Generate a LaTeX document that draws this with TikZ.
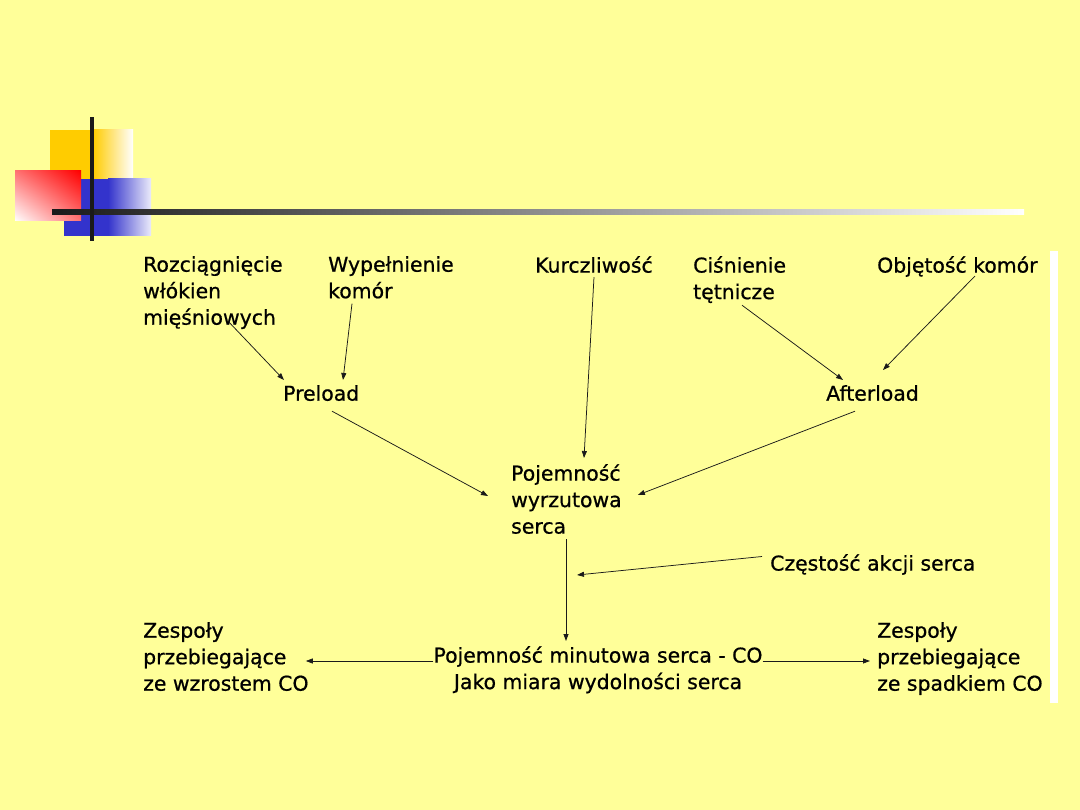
\documentclass[tikz,border=0pt]{standalone}
\usepackage{fontspec}
\setmainfont{DejaVu Sans}
\newfontfamily\slidefont{DejaVu Sans}[FakeBold=0.7]
\usepackage{xcolor}
\usetikzlibrary{positioning,arrows.meta,shadings}

\definecolor{slidebg}{HTML}{FFFF99}
\definecolor{gold}{HTML}{FFCC00}
\definecolor{royal}{HTML}{3333CC}
\definecolor{signal}{HTML}{FF0000}
\definecolor{ink}{HTML}{1A1A1A}

\begin{document}
\begin{tikzpicture}[
  x=1pt,y=1pt,
  >={Triangle[length=7pt,width=5pt]},
  term/.style={
    anchor=north west,
    inner sep=0pt,
    align=left,
    font=\slidefont\fontsize{20.4}{26.5}\selectfont
  },
  link/.style={->,line width=0.75pt,draw=ink}
]
% slide background
\fill[slidebg] (0,0) rectangle (1080,-810);
\useasboundingbox (0,0) rectangle (1080,-810);

% corner ornament
\fill[gold] (50,-130) rectangle (93,-212);
\shade[left color=gold,right color=white] (93,-130) rectangle (133,-212);
\fill[royal] (64,-179) rectangle (108,-236);
\shade[left color=royal,right color=white!90!royal] (108,-179) rectangle (151,-236);
\shade[upper right=signal,upper left=signal!55!white,lower right=signal!55!white,lower left=white]
  (15,-171) rectangle (81,-221);
\shade[left color=ink,right color=white] (52,-209.5) rectangle (1024,-214.5);
\fill[ink] (90,-117) rectangle (94,-241);
\fill[white] (1050,-251) rectangle (1058,-703);

% factors
\node[term] (rozc) at (143,-256) {Rozciągnięcie\\włókien\\mięśniowych};
\node[term] (wyp) at (328,-256) {Wypełnienie\\komór};
\node[term] (kurcz) at (535,-256) {Kurczliwość};
\node[term] (cisn) at (693,-256) {Ciśnienie\\tętnicze};
\node[term] (obj) at (877,-256) {Objętość komór};

\node[term] (preload) at (283,-385) {Preload};
\node[term] (afterload) at (826,-385) {Afterload};

\node[term] (sv) at (511,-464) {Pojemność\\wyrzutowa\\serca};
\node[term] (hr) at (770,-554) {Częstość akcji serca};

\node[term,anchor=north,align=center] (co) at (598,-646) {Pojemność minutowa serca - CO\\Jako miara wydolności serca};
\node[term] (zl) at (143,-622) {Zespoły\\przebiegające\\ze wzrostem CO};
\node[term] (zr) at (877,-622) {Zespoły\\przebiegające\\ze spadkiem CO};

\coordinate (hrend) at (577,-575);

\draw[link] ([shift={(86,7)}]rozc.south west) -- ([shift={(1,5)}]preload.north west);
\draw[link] ([shift={(24,-5)}]wyp.south west) -- ([shift={(60,5)}]preload.north west);
\draw[link] ([shift={(59,-4)}]kurcz.south west) -- ([shift={(73,6)}]sv.north west);
\draw[link] ([shift={(49,-2)}]cisn.south west) -- ([shift={(17,5)}]afterload.north west);
\draw[link] ([shift={(98,1)}]obj.south west) -- ([shift={(57,15)}]afterload.north west);

\draw[link] ([shift={(49,-10)}]preload.south west) -- ([shift={(-23,-32)}]sv.north west);
\draw[link] ([shift={(29,-10)}]afterload.south west) -- ([shift={(16,-31)}]sv.north east);

\draw[link] ([shift={(55,-5)}]sv.south west) -- ([shift={(-32,5)}]co.north);
\draw[link] ([shift={(-8,8)}]hr.west) -- (hrend);

\draw[link] ([yshift=-15pt]co.north west) coordinate (col) -- ([xshift=-3pt]col -| zl.east);
\draw[link] ([yshift=-15pt]co.north east) coordinate (cor) -- ([xshift=-7pt]cor -| zr.west);
\end{tikzpicture}
\end{document}
